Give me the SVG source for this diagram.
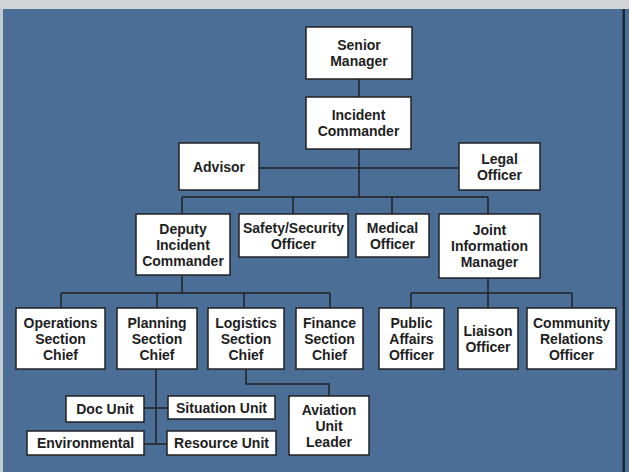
<svg xmlns="http://www.w3.org/2000/svg" width="629" height="472" viewBox="0 0 629 472">
<style>
.bg{fill:#4a6e96}
.box rect{fill:#ffffff;stroke:#222222;stroke-width:1.5}
.box text{font-family:"Liberation Sans",Arial,sans-serif;font-weight:bold;font-size:14px;fill:#1e1e1e;text-anchor:middle}
#connectors path{fill:none;stroke:#222222;stroke-width:1.5}
</style>
<rect x="0" y="0" width="629" height="472" class="bg"/>
<rect x="0" y="0" width="629" height="9" fill="#d2d4d7"/>
<rect x="0" y="9" width="3" height="463" fill="#c3cad4"/>
<rect x="622.5" y="9" width="2.5" height="463" fill="#1f2633"/>
<g id="connectors">
<path d="M359 79V97"/>
<path d="M359 149V197"/>
<path d="M259 168H459"/>
<path d="M182 197H488M182 197V214M293 197V214M392 197V214M488 197V214"/>
<path d="M182 275V293M61 293H330M61 293V308M157 293V308M244 293V308M330 293V308"/>
<path d="M488 278V308M411 293H572M411 293V308M572 293V308"/>
<path d="M156 369V444M144 408H168M144 444H167"/>
<path d="M246 369V384H329V396"/>
</g>
<g id="senior-manager" class="box"><rect x="306" y="27" width="106" height="52"/><text x="359" y="50">Senior</text><text x="359" y="66">Manager</text></g>
<g id="incident-commander" class="box"><rect x="306" y="97" width="105" height="52"/><text x="358.5" y="120">Incident</text><text x="358.5" y="136">Commander</text></g>
<g id="advisor" class="box"><rect x="179" y="143" width="80" height="47"/><text x="219" y="171.5">Advisor</text></g>
<g id="legal-officer" class="box"><rect x="459" y="143" width="81" height="47"/><text x="499.5" y="163.5">Legal</text><text x="499.5" y="179.5">Officer</text></g>
<g id="deputy-incident-commander" class="box"><rect x="136" y="214" width="94" height="61"/><text x="183" y="233.5">Deputy</text><text x="183" y="249.5">Incident</text><text x="183" y="265.5">Commander</text></g>
<g id="safety-security-officer" class="box"><rect x="239" y="214" width="109" height="43"/><text x="293.5" y="232.5">Safety/Security</text><text x="293.5" y="248.5">Officer</text></g>
<g id="medical-officer" class="box"><rect x="356" y="214" width="73" height="43"/><text x="392.5" y="232.5">Medical</text><text x="392.5" y="248.5">Officer</text></g>
<g id="joint-information-manager" class="box"><rect x="439" y="214" width="101" height="64"/><text x="489.5" y="235">Joint</text><text x="489.5" y="251">Information</text><text x="489.5" y="267">Manager</text></g>
<g id="operations-section-chief" class="box"><rect x="16" y="308" width="89" height="61"/><text x="60.5" y="327.5">Operations</text><text x="60.5" y="343.5">Section</text><text x="60.5" y="359.5">Chief</text></g>
<g id="planning-section-chief" class="box"><rect x="117" y="308" width="80" height="61"/><text x="157" y="327.5">Planning</text><text x="157" y="343.5">Section</text><text x="157" y="359.5">Chief</text></g>
<g id="logistics-section-chief" class="box"><rect x="208" y="308" width="76" height="61"/><text x="246" y="327.5">Logistics</text><text x="246" y="343.5">Section</text><text x="246" y="359.5">Chief</text></g>
<g id="finance-section-chief" class="box"><rect x="296" y="308" width="67" height="61"/><text x="329.5" y="327.5">Finance</text><text x="329.5" y="343.5">Section</text><text x="329.5" y="359.5">Chief</text></g>
<g id="public-affairs-officer" class="box"><rect x="379" y="308" width="65" height="61"/><text x="411.5" y="327.5">Public</text><text x="411.5" y="343.5">Affairs</text><text x="411.5" y="359.5">Officer</text></g>
<g id="liaison-officer" class="box"><rect x="458" y="308" width="60" height="61"/><text x="488" y="335.5">Liaison</text><text x="488" y="351.5">Officer</text></g>
<g id="community-relations-officer" class="box"><rect x="527" y="308" width="89" height="61"/><text x="571.5" y="327.5">Community</text><text x="571.5" y="343.5">Relations</text><text x="571.5" y="359.5">Officer</text></g>
<g id="doc-unit" class="box"><rect x="66" y="396" width="78" height="26"/><text x="105" y="414">Doc Unit</text></g>
<g id="situation-unit" class="box"><rect x="168" y="396" width="107" height="23"/><text x="221.5" y="412.5">Situation Unit</text></g>
<g id="environmental" class="box"><rect x="27" y="431" width="117" height="24"/><text x="85.5" y="448">Environmental</text></g>
<g id="resource-unit" class="box"><rect x="167" y="431" width="109" height="24"/><text x="221.5" y="448">Resource Unit</text></g>
<g id="aviation-unit-leader" class="box"><rect x="289" y="396" width="80" height="59"/><text x="329" y="414.5">Aviation</text><text x="329" y="430.5">Unit</text><text x="329" y="446.5">Leader</text></g>
</svg>
